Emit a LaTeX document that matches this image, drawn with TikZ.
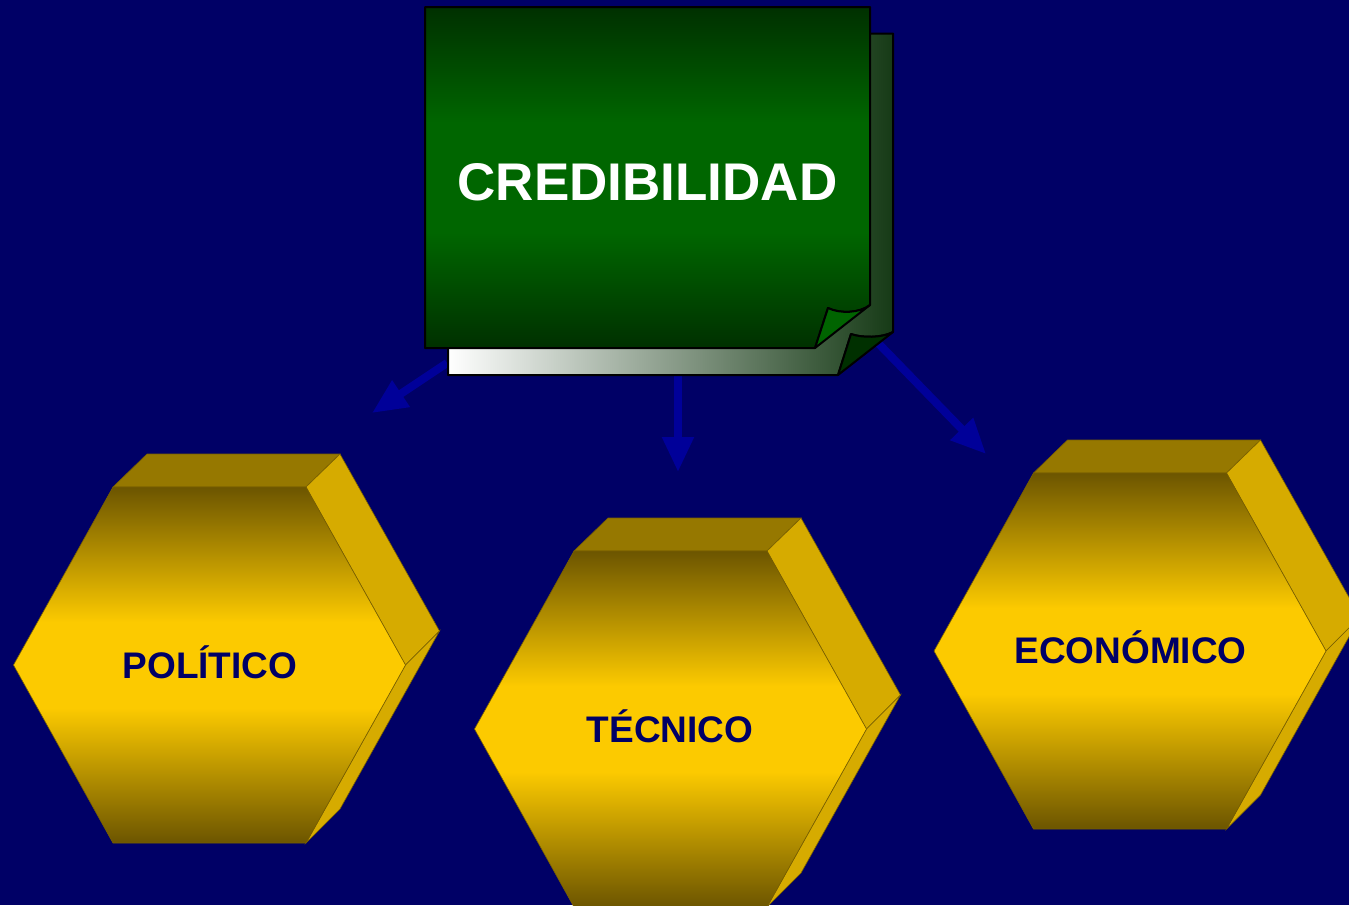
\documentclass[tikz,border=0pt]{standalone}
\usepackage{fontspec}
\setmainfont{Liberation Sans}
\usetikzlibrary{arrows.meta}
\definecolor{bgblue}{RGB}{0,0,102}
\definecolor{arrowblue}{RGB}{0,0,153}
\definecolor{gdark}{RGB}{0,48,0}
\definecolor{gmid}{RGB}{0,102,0}
\definecolor{glight}{RGB}{0,100,0}
\definecolor{gback}{RGB}{22,58,22}
\definecolor{hdark}{RGB}{108,85,0}
\definecolor{hbright}{RGB}{252,202,0}
\definecolor{htop}{RGB}{150,120,0}
\definecolor{hside}{RGB}{214,171,0}
\definecolor{hline}{RGB}{120,95,0}
\definecolor{navytext}{RGB}{0,0,102}
\pgfdeclareverticalshading{hexshade}{100bp}{color(0bp)=(hdark); color(25bp)=(hdark); color(44bp)=(hbright); color(56bp)=(hbright); color(75bp)=(hdark); color(100bp)=(hdark)}
\pgfdeclareverticalshading{greenshade}{100bp}{color(0bp)=(gdark); color(25bp)=(gdark); color(42bp)=(gmid); color(58bp)=(gmid); color(75bp)=(gdark); color(100bp)=(gdark)}
\tikzset{
  arr/.style={-{Triangle[length=35pt,width=30pt]}, line width=8pt, draw=arrowblue},
  hexfront/.style={shading=hexshade, draw=hline, line width=0.6pt},
  hextopface/.style={fill=htop, draw=hline, line width=0.6pt},
  hexsideface/.style={fill=hside, draw=hline, line width=0.6pt},
  hexlabel/.style={text=navytext, font=\fontsize{37}{40}\selectfont\bfseries, anchor=base, inner sep=0pt},
  pageedge/.style={draw=black, line width=2pt, line join=round},
}
% #1,#2 centre; #3 text; #4 name; #5 text centre x offset; #6 baseline offset
\newcommand\hexprism[6]{%
  \begin{scope}[shift={(#1,#2)}]
    \path[hextopface] (-96.5,-178) -- (-62.5,-211) -- (130.5,-211) -- (96.5,-178) -- cycle;
    \path[hexsideface] (96.5,-178) -- (130.5,-211) -- (230,-34) -- (196,0) -- cycle;
    \path[hexsideface] (196,0) -- (230,-34) -- (130.5,144) -- (96.5,178) -- cycle;
    \path[hexfront] (-96.5,-178) -- (96.5,-178) -- (196,0) -- (96.5,178) -- (-96.5,178) -- (-196,0) -- cycle;
    \node[hexlabel] (#4) at (#5,#6) {#3};
  \end{scope}}
\begin{document}
\begin{tikzpicture}[x=1pt,y=-1pt]
\useasboundingbox (0,0) rectangle (1349,905);
\fill[bgblue] (0,0) rectangle (1349,905);
\clip (0,0) rectangle (1349,905);
% arrow anchors
\coordinate (startL) at (447,363);
\coordinate (startM) at (678,372);
\coordinate (startR) at (878,343);
\coordinate (endL) at (372,413);
\coordinate (endM) at (678,472);
\coordinate (endR) at (986,454);
\draw[arr] (startL) -- (endL);
\draw[arr] (startM) -- (endM);
\draw[arr] (startR) -- (endR);
% back page
\path[pageedge, left color=white, right color=gback]
  (448,33.5) -- (893,33.5) -- (893,332) .. controls (882,338) and (862,338) .. (851,334) -- (838,375) -- (448,375) -- cycle;
\path[pageedge, fill=gdark]
  (838,375) -- (851,334) .. controls (862,338) and (882,338) .. (893,332) -- cycle;
% front page
\path[pageedge, shading=greenshade]
  (425,7) -- (870,7) -- (870,305) .. controls (860,313) and (840,314) .. (828,308) -- (815,348) -- (425,348) -- cycle;
\path[pageedge, fill=glight]
  (815,348) -- (828,308) .. controls (840,314) and (860,313) .. (870,305) -- cycle;
\node[text=white, font=\fontsize{53}{60}\selectfont\bfseries, anchor=base, inner sep=0pt] (cred) at (647.5,200) {CREDIBILIDAD};
% hexagons
\hexprism{209.5}{665}{POLÍTICO}{pol}{0.5}{13}
\hexprism{670.5}{729}{TÉCNICO}{tec}{-0.5}{13}
\hexprism{1130}{651}{ECONÓMICO}{eco}{0.5}{12}
\end{tikzpicture}
\end{document}
